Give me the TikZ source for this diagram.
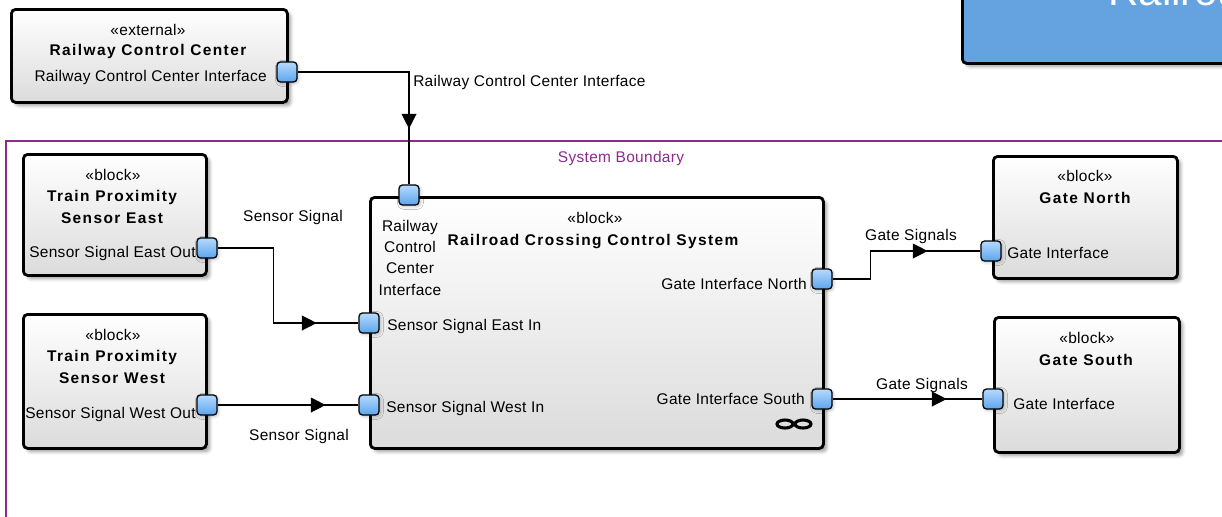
\documentclass[tikz,border=0pt]{standalone}
\usepackage{fontspec}
\setmainfont{Liberation Sans}[LetterSpace=2]
\newfontfamily\titlefont{Liberation Sans}[LetterSpace=9]
\newfontfamily\plainfont{Liberation Sans}
\usetikzlibrary{shadows.blur, arrows.meta, decorations.markings, positioning}

\definecolor{portTop}{HTML}{B5DAFF}
\definecolor{portBot}{HTML}{5CA4EC}
\definecolor{boundary}{HTML}{8E2A8E}
\definecolor{headBlue}{HTML}{65A3E0}
\newcommand{\pxu}{0.025cm}

\begin{document}
\begin{tikzpicture}
	[
		x=0.025cm, y=-0.025cm,
		font=\fontsize{11}{15}\selectfont,
		block/.style={draw, line width=2pt, rounded corners=3pt, anchor=north west,
			top color=white, bottom color=black!14,
			blur shadow={shadow xshift=2.5pt, shadow yshift=-2.5pt, shadow opacity=35}},
		port/.style={draw, line width=0.9pt, rounded corners=2.5pt, minimum size=20*\pxu,
			inner sep=0pt, top color=portTop, bottom color=portBot,
			blur shadow={shadow xshift=1pt, shadow yshift=-1pt, shadow opacity=25}},
		lbl/.style={inner sep=0pt, anchor=base},
		ttl/.style={lbl, align=center, font=\fontsize{11}{15}\titlefont\bfseries},
		conn/.style={draw, line width=0.9pt},
		midtip/.style={postaction={decorate}, decoration={markings,
			mark=at position #1 with {\arrow{Triangle[length=10.5pt, width=10.5pt]}}}}
	]
	\useasboundingbox (0,0) rectangle (1222,516);
	\clip (0,0) rectangle (1222,516);

	% system boundary and the title block behind everything
	\draw[boundary, line width=1.2pt] (6,141) rectangle (1240,540);
	\node[lbl, text=boundary] (sb) at (621,162) {System Boundary};
	\node[block, fill=headBlue, top color=headBlue, bottom color=headBlue,
		minimum width=279*\pxu, minimum height=102*\pxu] (head) at (961,-40) {};
	\node[lbl, anchor=base west, text=white, font=\fontsize{30}{36}\plainfont] (headtxt) at (1108,5) {Railroad Crossing};

	% blocks
	\node[block, minimum width=276*\pxu, minimum height=93*\pxu] (rcc) at (10,8) {};
	\node[block, minimum width=183*\pxu, minimum height=121*\pxu] (tpse) at (22,153) {};
	\node[block, minimum width=183*\pxu, minimum height=134*\pxu] (tpsw) at (22,313) {};
	\node[block, minimum width=453*\pxu, minimum height=251*\pxu] (rccs) at (369,196) {};
	\node[block, minimum width=184*\pxu, minimum height=122*\pxu] (gn) at (992,155) {};
	\node[block, minimum width=185*\pxu, minimum height=135*\pxu] (gs) at (993,316) {};

	% block texts (multi-line nodes sit on their last baseline)
	\node[lbl] (rccst) at (148,35) {«external»};
	\node[ttl] (rccnm) at (148,55) {Railway Control Center};
	\node[lbl, anchor=base east] (rccpl) at (267,81) {Railway Control Center Interface};

	\node[lbl] (tpsest) at (113,180) {«block»};
	\node[ttl] (tpsenm) at (112,223) {Train Proximity\\Sensor East};
	\node[lbl, anchor=base west] (tpsepl) at (29,257) {Sensor Signal East Out};

	\node[lbl] (tpswst) at (113,340) {«block»};
	\node[ttl] (tpswnm) at (112,383) {Train Proximity\\Sensor West};
	\node[lbl, anchor=base west] (tpswpl) at (25,418) {Sensor Signal West Out};

	\node[lbl] (rccsst) at (595,223) {«block»};
	\node[ttl] (rccsnm) at (593,245) {Railroad Crossing Control System};
	\node[lbl, align=center] (rccstl) at (410,295) {Railway\\Control\\Center\\Interface};
	\node[lbl, anchor=base west] (rccsel) at (387,330) {Sensor Signal East In};
	\node[lbl, anchor=base west] (rccswl) at (386,412) {Sensor Signal West In};
	\node[lbl, anchor=base east] (rccsnl) at (807,289) {Gate Interface North};
	\node[lbl, anchor=base east] (rccssl) at (805,404) {Gate Interface South};
	\draw[line width=2.2pt] (785,424) ellipse (8 and 4) (803,424) ellipse (8 and 4);

	\node[lbl] (gnst) at (1085,181) {«block»};
	\node[ttl] (gnnm) at (1085,203) {Gate North};
	\node[lbl, anchor=base west] (gnpl) at (1007,258) {Gate Interface};

	\node[lbl] (gsst) at (1087,343) {«block»};
	\node[ttl] (gsnm) at (1086,365) {Gate South};
	\node[lbl, anchor=base west] (gspl) at (1013,409) {Gate Interface};

	% ports
	\node[port] (rccp) at (287,72) {};
	\node[port] (rccsT) at (409,195) {};
	\node[port] (tpseP) at (207,248) {};
	\node[port] (tpswP) at (207,405) {};
	\node[port] (rccsE) at (369,323) {};
	\node[port] (rccsW) at (369,405) {};
	\node[port] (rccsN) at (822,279) {};
	\node[port] (rccsS) at (822,399) {};
	\node[port] (gnP) at (991,251) {};
	\node[port] (gsP) at (993,399) {};

	% connectors between the ports
	\draw[conn, midtip=4.2cm] (rccp.east) -| (rccsT.north);
	\draw[conn, midtip=4.35cm] (tpseP.east) -- ++(56,0) |- (rccsE.west);
	\draw[conn, midtip=2.7cm] (tpswP.east) -- (rccsW.west);
	\draw[conn, midtip=3.075cm] (rccsN.east) -- ++(38,0) |- (gnP.west);
	\draw[conn, midtip=2.85cm] (rccsS.east) -- (gsP.west);

	\node[lbl, anchor=base west] (rccc) at (413,86) {Railway Control Center Interface};
	\node[lbl] (ssel) at (293,221) {Sensor Signal};
	\node[lbl] (sswl) at (299,440) {Sensor Signal};
	\node[lbl] (gsnl) at (911,240) {Gate Signals};
	\node[lbl] (gssl) at (922,389) {Gate Signals};
\end{tikzpicture}
\end{document}
